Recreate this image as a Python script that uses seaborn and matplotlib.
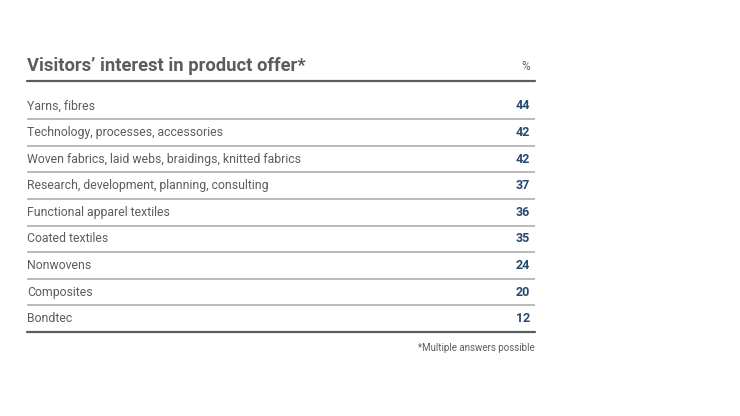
import matplotlib
matplotlib.use("Agg")
import matplotlib.pyplot as plt
import seaborn as sns

# Data
categories = [
    "Yarns, fibres",
    "Technology, processes, accessories",
    "Woven fabrics, laid webs, braidings, knitted fabrics",
    "Research, development, planning, consulting",
    "Functional apparel textiles",
    "Coated textiles",
    "Nonwovens",
    "Composites",
    "Bondtec",
]
shares = [44, 42, 42, 37, 36, 35, 24, 20, 12]
title = "Visitors\u2019 interest in product offer*"
unit_label = "%"
footnote = "*Multiple answers possible"

sns.set_theme(style="white")
plt.rcParams["font.family"] = ["Roboto", "DejaVu Sans"]

TEXT_GREY = "#5a5d60"
NUM_BLUE = "#244a72"
RULE_DARK = "#5a5d60"
RULE_LIGHT = "#b4b4b4"

fig = plt.figure(figsize=(7.4, 4.16), dpi=100)
W, H = 740, 416
left, right, top, bottom = 27, 535, 81, 332
ax = fig.add_axes([left / W, 1 - bottom / H, (right - left) / W, (bottom - top) / H])

n = len(categories)
row_px = 26.6
y_top = (n - 0.5) - (bottom - top) / row_px
ax.set_ylim(n - 0.5, y_top)
ax.set_xlim(0, 1)
ax.axis("off")

# row labels and values
for i, (cat, val) in enumerate(zip(categories, shares)):
    ax.text(0.0, i, cat, ha="left", va="center", fontsize=8.8, color=TEXT_GREY)
    ax.text(0.99, i, f"{val}", ha="right", va="center", fontsize=9,
            fontweight="bold", color=NUM_BLUE)

# separators
for i in range(n - 1):
    ax.axhline(i + 0.5, color=RULE_LIGHT, lw=1.3)
ax.axhline(y_top, color=RULE_DARK, lw=1.6, clip_on=False)
ax.axhline(n - 0.5, color=RULE_DARK, lw=1.6, clip_on=False)

# header
ax.text(0.0, y_top - 0.58, title, ha="left", va="center", fontsize=13.2,
        fontweight="bold", color=TEXT_GREY, clip_on=False)
ax.text(0.99, y_top - 0.53, unit_label, ha="right", va="center", fontsize=8.5,
        color=TEXT_GREY, clip_on=False)
ax.text(1.0, n - 0.5 + 0.6, footnote, ha="right", va="center", fontsize=7,
        color=TEXT_GREY, clip_on=False)

fig.savefig("out.png", dpi=100)
